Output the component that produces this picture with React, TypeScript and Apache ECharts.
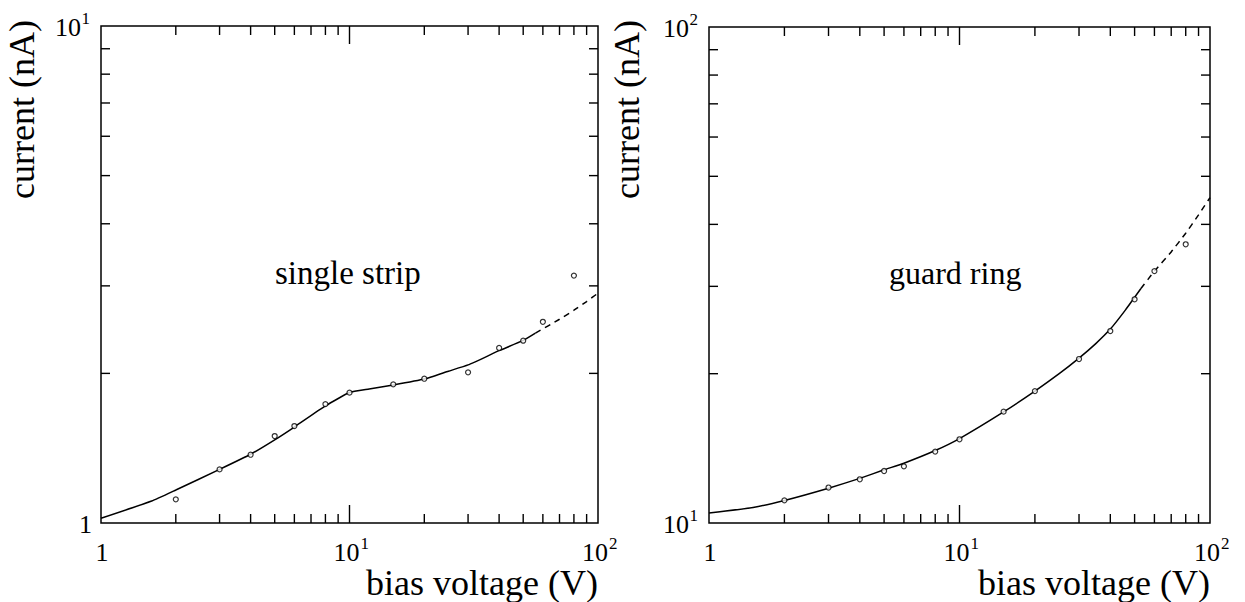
import React, { useEffect, useRef } from 'react';
import * as echarts from 'echarts';

// ---- data: single strip ----
const stripV = [2, 3, 4, 5, 6, 8, 10, 15, 20, 30, 40, 50, 60, 80];
const stripI = [1.116, 1.282, 1.372, 1.496, 1.567, 1.735, 1.829, 1.901, 1.951, 2.01, 2.25, 2.327, 2.54, 3.146];
const stripFitV = [1, 1.6, 2, 3, 4, 5, 6, 8, 10, 12, 15, 20, 25, 30, 40, 50, 56];
const stripFitI = [1.022, 1.107, 1.165, 1.282, 1.375, 1.47, 1.56, 1.72, 1.83, 1.86, 1.895, 1.948, 2.02, 2.08, 2.222, 2.33, 2.41];
const stripExtV = [56, 70, 80, 90, 100];
const stripExtI = [2.41, 2.57, 2.68, 2.79, 2.9];

// ---- data: guard ring ----
const ringV = [2, 3, 4, 5, 6, 8, 10, 15, 20, 30, 40, 50, 60, 80];
const ringI = [11.11, 11.79, 12.25, 12.73, 13.01, 13.93, 14.75, 16.77, 18.45, 21.41, 24.38, 28.25, 32.2, 36.47];
const ringFitV = [1, 1.5, 2, 3, 4, 5, 6, 8, 10, 15, 20, 25, 30, 35, 40, 46, 53];
const ringFitI = [10.47, 10.75, 11.1, 11.75, 12.3, 12.8, 13.2, 14.0, 14.8, 16.75, 18.45, 20.0, 21.5, 23.0, 24.6, 26.9, 29.7];
const ringExtV = [53, 60, 70, 80, 90, 100];
const ringExtI = [29.7, 32.2, 35.2, 38.4, 41.8, 45.3];

// ---- ticks and tick labels ----
const xMinorTicks = [2, 3, 4, 5, 6, 7, 8, 9, 20, 30, 40, 50, 60, 70, 80, 90];
const xMajorTicks = [10];
const yMinorTicksStrip = [2, 3, 4, 5, 6, 7, 8, 9];
const yMinorTicksRing = [20, 30, 40, 50, 60, 70, 80, 90];
const xLabelVals = [1, 10, 100];
const yLabelValsStrip = [1, 10];
const yLabelValsRing = [10, 100];

const FAMILY = '"Liberation Serif", "Times New Roman", serif';
const MINOR = 9;
const MAJOR = 18;

type Tick = { pt: [number, number]; dir: 'up' | 'down' | 'left' | 'right'; len: number };
type Lbl = { pt: [number, number]; axis: 'x' | 'y'; exp: number };

function buildTicks(yMin: number, yMax: number, yMinor: number[]): Tick[] {
  const t: Tick[] = [];
  xMinorTicks.forEach((v) => {
    t.push({ pt: [v, yMin], dir: 'up', len: MINOR });
    t.push({ pt: [v, yMax], dir: 'down', len: MINOR });
  });
  xMajorTicks.forEach((v) => {
    t.push({ pt: [v, yMin], dir: 'up', len: MAJOR });
    t.push({ pt: [v, yMax], dir: 'down', len: MAJOR });
  });
  yMinor.forEach((v) => {
    t.push({ pt: [1, v], dir: 'right', len: MINOR });
    t.push({ pt: [100, v], dir: 'left', len: MINOR });
  });
  return t;
}

function buildLabels(yMin: number, yVals: number[]): Lbl[] {
  const l: Lbl[] = [];
  xLabelVals.forEach((v) => l.push({ pt: [v, yMin], axis: 'x', exp: Math.round(Math.log10(v)) }));
  yVals.forEach((v) => l.push({ pt: [1, v], axis: 'y', exp: Math.round(Math.log10(v)) }));
  return l;
}

function tickSeries(idx: number, ticks: Tick[]) {
  return {
    type: 'custom',
    xAxisIndex: idx,
    yAxisIndex: idx,
    silent: true,
    clip: false,
    data: ticks.map((t) => t.pt),
    renderItem: (params: any, api: any) => {
      const t = ticks[params.dataIndex];
      const p = api.coord([api.value(0), api.value(1)]);
      let x2 = p[0];
      let y2 = p[1];
      if (t.dir === 'up') y2 -= t.len;
      if (t.dir === 'down') y2 += t.len;
      if (t.dir === 'left') x2 -= t.len;
      if (t.dir === 'right') x2 += t.len;
      return {
        type: 'line',
        shape: { x1: p[0], y1: p[1], x2, y2 },
        style: { stroke: '#000', lineWidth: 1.4 },
      };
    },
  };
}

const baseTxt = { font: `26px ${FAMILY}`, fontSize: 26, fontFamily: FAMILY, fill: '#000', lineHeight: 22 };
const supTxt = { font: `17px ${FAMILY}`, fontSize: 17, fontFamily: FAMILY, fill: '#000', lineHeight: 14 };

function labelSeries(idx: number, labels: Lbl[]) {
  return {
    type: 'custom',
    xAxisIndex: idx,
    yAxisIndex: idx,
    silent: true,
    clip: false,
    data: labels.map((l) => l.pt),
    renderItem: (params: any, api: any) => {
      const L = labels[params.dataIndex];
      const p = api.coord([api.value(0), api.value(1)]);
      if (L.axis === 'x') {
        const y = p[1] + 29;
        if (L.exp === 0) {
          return { type: 'text', x: p[0] + 1, y, style: { ...baseTxt, text: '1', align: 'center', verticalAlign: 'middle' } };
        }
        return {
          type: 'group',
          children: [
            { type: 'text', x: p[0] + 10, y, style: { ...baseTxt, text: '10', align: 'right', verticalAlign: 'middle' } },
            { type: 'text', x: p[0] + 11, y: y - 9, style: { ...supTxt, text: String(L.exp), align: 'left', verticalAlign: 'middle' } },
          ],
        };
      }
      const y = p[1] + 1;
      if (L.exp === 0) {
        return { type: 'text', x: p[0] - 9, y, style: { ...baseTxt, text: '1', align: 'right', verticalAlign: 'middle' } };
      }
      return {
        type: 'group',
        children: [
          { type: 'text', x: p[0] - 20, y, style: { ...baseTxt, text: '10', align: 'right', verticalAlign: 'middle' } },
          { type: 'text', x: p[0] - 11, y: y - 9, style: { ...supTxt, text: String(L.exp), align: 'right', verticalAlign: 'middle' } },
        ],
      };
    },
  };
}

const zip = (a: number[], b: number[]) => a.map((v, i) => [v, b[i]]);

export default function App() {
  const ref = useRef<HTMLDivElement>(null);
  useEffect(() => {
    if (!ref.current) return;
    const chart = echarts.init(ref.current, undefined, { renderer: 'svg' });
    const axisBase = (gridIndex: number, min: number, max: number) => ({
      type: 'log',
      logBase: 10,
      gridIndex,
      min,
      max,
      axisLine: { show: false },
      axisTick: { show: false },
      splitLine: { show: false },
      axisLabel: { show: false },
    });
    const lineStyle = { color: '#000', width: 1.5 };
    const scatter = (idx: number, d: number[][]) => ({
      type: 'scatter',
      xAxisIndex: idx,
      yAxisIndex: idx,
      data: d,
      symbol: 'circle',
      symbolSize: 5,
      itemStyle: { color: '#fff', borderColor: '#000', borderWidth: 1.2 },
      z: 5,
    });
    const line = (idx: number, d: number[][], dashed: boolean) => ({
      type: 'line',
      xAxisIndex: idx,
      yAxisIndex: idx,
      data: d,
      showSymbol: false,
      symbol: 'none',
      smooth: 0.15,
      lineStyle: { ...lineStyle, type: dashed ? [6, 5] : 'solid' },
    });
    const titleStyle = { fontFamily: FAMILY, fontSize: 36, fill: '#000' };
    chart.setOption({
      animation: false,
      backgroundColor: '#fff',
      grid: [
        { left: 101, top: 26, width: 497, height: 497, show: true, borderColor: '#000', borderWidth: 1.5, backgroundColor: 'transparent' },
        { left: 709, top: 27, width: 501, height: 496, show: true, borderColor: '#000', borderWidth: 1.5, backgroundColor: 'transparent' },
      ],
      xAxis: [axisBase(0, 1, 100), axisBase(1, 1, 100)],
      yAxis: [axisBase(0, 1, 10), axisBase(1, 10, 100)],
      series: [
        tickSeries(0, buildTicks(1, 10, yMinorTicksStrip)),
        tickSeries(1, buildTicks(10, 100, yMinorTicksRing)),
        labelSeries(0, buildLabels(1, yLabelValsStrip)),
        labelSeries(1, buildLabels(10, yLabelValsRing)),
        line(0, zip(stripFitV, stripFitI), false),
        line(0, zip(stripExtV, stripExtI), true),
        scatter(0, zip(stripV, stripI)),
        line(1, zip(ringFitV, ringFitI), false),
        line(1, zip(ringExtV, ringExtI), true),
        scatter(1, zip(ringV, ringI)),
      ],
      graphic: [
        { type: 'text', x: 275, y: 273, style: { ...titleStyle, fontSize: 33, text: 'single strip', textVerticalAlign: 'middle' } },
        { type: 'text', x: 889, y: 273, style: { ...titleStyle, fontSize: 32, text: 'guard ring', textVerticalAlign: 'middle' } },
        { type: 'text', x: 598, y: 583, style: { ...titleStyle, fontSize: 36, text: 'bias voltage (V)', textAlign: 'right', textVerticalAlign: 'middle' } },
        { type: 'text', x: 1210, y: 583, style: { ...titleStyle, fontSize: 36, text: 'bias voltage (V)', textAlign: 'right', textVerticalAlign: 'middle' } },
        { type: 'text', x: 22, y: 20, rotation: Math.PI / 2, style: { ...titleStyle, text: 'current (nA)', textAlign: 'right', textVerticalAlign: 'middle' } },
        { type: 'text', x: 627, y: 20, rotation: Math.PI / 2, style: { ...titleStyle, text: 'current (nA)', textAlign: 'right', textVerticalAlign: 'middle' } },
      ],
    });
    return () => chart.dispose();
  }, []);
  return <div ref={ref} style={{ position: 'absolute', left: 0, top: 0, width: 1245, height: 602 }} />;
}
